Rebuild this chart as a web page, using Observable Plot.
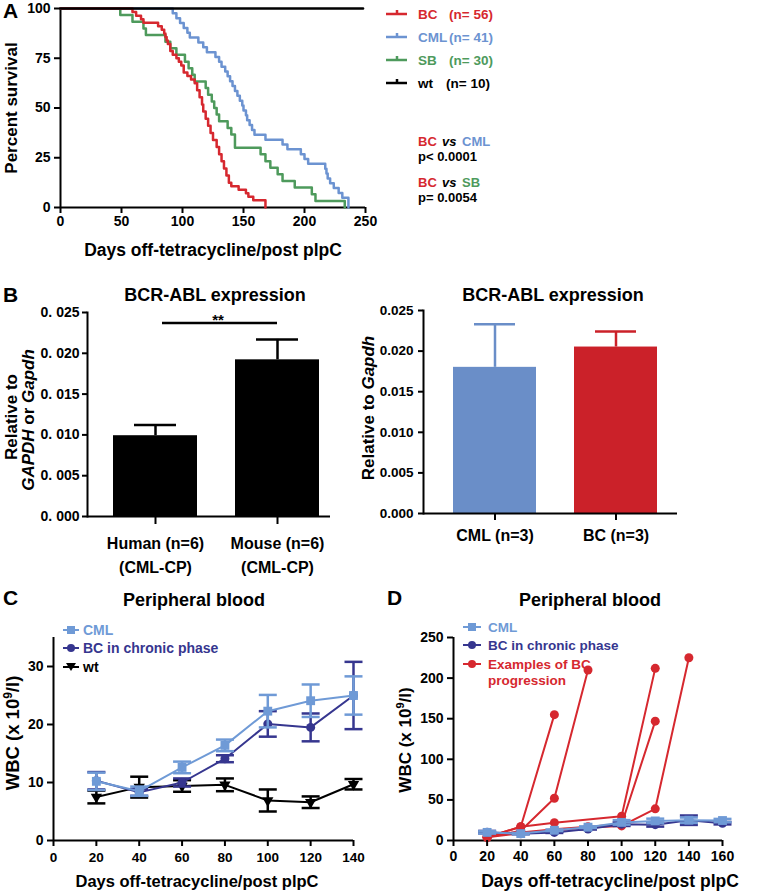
<!DOCTYPE html>
<html><head><meta charset="utf-8">
<script src="https://cdn.jsdelivr.net/npm/d3@7"></script>
<script src="https://cdn.jsdelivr.net/npm/@observablehq/plot@0.6"></script>
<style>
body{margin:0;background:#fff;}
#root{position:relative;width:760px;height:894px;overflow:hidden;background:#fff}
#root svg{position:absolute}
</style></head><body><div id="root"></div>
<script>
const FONT = "'Liberation Sans', Arial, Helvetica, sans-serif";
const RED = "#d6282f", BLUE = "#6c93d1", GREEN = "#4e9a5c", BLACK = "#000";
const CML_BAR = "#6a8ec8", BC_BAR = "#cb2129";
const CML_C = "#6f9ad6", BCC_C = "#36368f";

// ---------- Panel A: survival ----------
const bcDays  = [0, 59, 62, 66, 68, 80, 83, 85, 86, 87, 88, 90, 92, 95, 97, 99, 101, 104, 107, 110, 112, 114, 116, 117, 119, 121, 123, 125, 128, 130, 132, 134, 136, 138, 140, 146, 152, 154, 158, 168];
const bcPct   = [100, 98.2, 96.4, 94.6, 92.9, 91.1, 89.3, 87.5, 85.7, 83.9, 82.1, 78.6, 76.8, 75, 73.2, 71.4, 67.9, 66.1, 64.3, 62.5, 58.9, 55.4, 51.8, 48.2, 44.6, 41.1, 37.5, 33.9, 30.4, 26.8, 23.2, 19.6, 16.1, 12.5, 10.7, 8.9, 7.1, 5.4, 3.6, 0];
const cmlDays = [0, 92, 95, 98, 101, 104, 106, 113, 117, 120, 127, 130, 132, 135, 137, 139, 141, 143, 145, 147, 149, 150, 152, 153, 155, 157, 159, 168, 182, 186, 197, 200, 203, 217, 218, 219, 221, 224, 228, 231, 236];
const cmlPct  = [100, 97.6, 95.1, 92.7, 90.2, 87.8, 85.4, 82.9, 80.5, 78, 75.6, 73.2, 70.7, 68.3, 65.9, 63.4, 61, 58.5, 56.1, 53.7, 51.2, 48.8, 46.3, 43.9, 41.5, 39, 36.6, 34.1, 31.7, 29.3, 26.8, 24.4, 22, 19.5, 17.1, 14.6, 12.2, 9.8, 7.3, 4.9, 0];
const sbDays  = [0, 49, 59, 68, 70, 86, 90, 95, 102, 105, 108, 110, 119, 121, 124, 126, 128, 130, 137, 140, 143, 164, 168, 172, 178, 182, 192, 206, 209, 233];
const sbPct   = [100, 96.7, 93.3, 90, 86.7, 83.3, 80, 76.7, 73.3, 70, 66.7, 63.3, 60, 56.7, 53.3, 50, 46.7, 43.3, 40, 36.7, 30, 26.7, 23.3, 20, 16.7, 13.3, 10, 6.7, 3.3, 0];
const wtDays  = [0, 248];
const wtPct   = [100, 100];
const survGroups = ["BC", "CML", "SB", "wt"];
const survTicksX = [0, 50, 100, 150, 200, 250];
const survTicksY = [0, 25, 50, 75, 100];

// ---------- Panel B: expression ----------
const hmCats = ["Human (n=6)\n(CML-CP)", "Mouse (n=6)\n(CML-CP)"];
const hmMean = [0.0099, 0.0192];
const hmErr  = [0.0013, 0.0025];
const cbCats = ["CML (n=3)", "BC (n=3)"];
const cbMean = [0.0180, 0.0205];
const cbErr  = [0.0053, 0.0019];
const exprTicks = [0, 0.005, 0.010, 0.015, 0.020, 0.025];

// ---------- Panel C: peripheral blood ----------
const daysC   = [20, 40, 60, 80, 100, 120, 140];
const cmlC    = [10.2, 8.5, 12.6, 16.4, 22.3, 24.1, 25.0];
const cmlCErr = [1.5, 0.8, 1.0, 1.0, 2.8, 2.8, 3.3];
const bcC     = [10.3, 8.3, 10.0, 14.1, 20.1, 19.5, 25.0];
const bcCErr  = [1.5, 0.6, 0.7, 0.6, 2.2, 2.4, 5.8];
const wtC     = [7.5, 9.2, 9.4, 9.6, 6.9, 6.6, 9.7];
const wtCErr  = [1.1, 1.8, 1.0, 1.1, 1.9, 1.0, 0.9];
const ticksCX = [0, 20, 40, 60, 80, 100, 120, 140];
const ticksCY = [0, 10, 20, 30];

// ---------- Panel D ----------
const daysD   = [20, 40, 60, 80, 100, 120, 140, 160];
const cmlD    = [10.0, 8.5, 12.6, 16.4, 22.3, 24.1, 25.0, 24.6];
const cmlDErr = [1.5, 0.8, 1.0, 1.0, 2.8, 2.8, 3.3, 2.0];
const bcD     = [10.3, 8.3, 10.0, 14.1, 20.1, 19.5, 25.0, 21.3];
const bcDErr  = [1.5, 0.6, 0.7, 0.6, 2.2, 2.4, 5.8, 1.5];
const prog1Days = [20, 40, 60],                    prog1 = [4, 17, 155];
const prog2Days = [20, 40, 60, 80],                prog2 = [4, 12, 52, 210];
const prog3Days = [20, 40, 60, 100, 120],          prog3 = [4, 17, 22, 30, 212];
const prog4Days = [20, 40, 60, 80, 100, 120],      prog4 = [5, 10, 14, 17, 20, 147];
const prog5Days = [20, 40, 60, 80, 100, 120, 140], prog5 = [4, 9, 12, 16, 18, 39, 225];
const ticksDX = [0, 20, 40, 60, 80, 100, 120, 140, 160];
const ticksDY = [0, 50, 100, 150, 200, 250];

// ---------- helpers ----------
const root = document.getElementById("root");
function place(svg, left, top) { svg.style.left = left + "px"; svg.style.top = top + "px"; root.appendChild(svg); }
const baseStyle = {background: "transparent", fontFamily: FONT, fontWeight: "bold", fontSize: "14px", color: "#000", overflow: "visible"};
const capSym = {draw(ctx, size) { const r = Math.sqrt(size / Math.PI); ctx.moveTo(-r, 0); ctx.lineTo(r, 0); }};

// ---------- Panel A ----------
const rowsS = (days, pct, g) => days.map((d, i) => ({day: d, pct: pct[i], g}));
const surv = [...rowsS(sbDays, sbPct, "SB"), ...rowsS(cmlDays, cmlPct, "CML"), ...rowsS(bcDays, bcPct, "BC"), ...rowsS(wtDays, wtPct, "wt")];
place(Plot.plot({
  width: 380, height: 262, marginLeft: 60, marginRight: 15, marginTop: 8, marginBottom: 55,
  style: baseStyle,
  x: {domain: [0, 250]}, y: {domain: [0, 100]},
  color: {domain: survGroups, range: [RED, BLUE, GREEN, BLACK]},
  marks: [
    Plot.ruleX([0], {strokeWidth: 2}),
    Plot.ruleY([0], {strokeWidth: 2}),
    Plot.line(surv, {x: "day", y: "pct", z: "g", stroke: "g", curve: "step-after", strokeWidth: 2.5}),
    Plot.axisX({ticks: survTicksX, tickSize: 6, tickPadding: 3, strokeWidth: 2, fontSize: 14, label: null}),
    Plot.axisY({ticks: survTicksY, tickSize: 6, tickPadding: 4, strokeWidth: 2, fontSize: 14, label: null})
  ]
}), 0, 0);

// ---------- Panel B left ----------
const hm = hmCats.map((c, i) => ({c, v: hmMean[i], e: hmErr[i]}));
place(Plot.plot({
  width: 350, height: 300, marginLeft: 87, marginRight: 20, marginTop: 32, marginBottom: 64,
  style: baseStyle,
  x: {domain: hmCats, paddingInner: 0.311, paddingOuter: 0.151, align: 0.7},
  y: {domain: [0, 0.025]},
  marks: [
    Plot.ruleX(hm, {x: "c", y1: "v", y2: d => d.v + d.e, strokeWidth: 2.5}),
    Plot.tickY(hm, {x: "c", y: d => d.v + d.e, inset: 21, strokeWidth: 2.5}),
    Plot.barY(hm, {x: "c", y: "v", fill: "black"}),
    Plot.frame({anchor: "left", strokeWidth: 2}),
    Plot.ruleY([0], {strokeWidth: 2}),
    Plot.axisY({ticks: exprTicks, tickSize: 5, tickPadding: 3, strokeWidth: 2, fontSize: 14,
      tickFormat: d => d3.format(".3f")(d).replace(".", ". "), label: null}),
    Plot.axisX({tickSize: 8, tickPadding: 7, strokeWidth: 2, fontSize: 16, lineHeight: 1.5, label: null})
  ]
}), 0, 280);

// ---------- Panel B right ----------
const cb = cbCats.map((c, i) => ({c, v: cbMean[i], e: cbErr[i]}));
place(Plot.plot({
  width: 317, height: 300, marginLeft: 43, marginRight: 20, marginTop: 30, marginBottom: 67,
  style: baseStyle,
  x: {domain: cbCats, paddingInner: 0.311, paddingOuter: 0.197, align: 0.6},
  y: {domain: [0, 0.025]},
  color: {domain: cbCats, range: [CML_BAR, BC_BAR]},
  marks: [
    Plot.ruleX(cb, {x: "c", y1: "v", y2: d => d.v + d.e, stroke: "c", strokeWidth: 2.5}),
    Plot.tickY(cb, {x: "c", y: d => d.v + d.e, stroke: "c", inset: 21, strokeWidth: 2.5}),
    Plot.barY(cb, {x: "c", y: "v", fill: "c"}),
    Plot.frame({anchor: "left", strokeWidth: 2}),
    Plot.ruleY([0], {strokeWidth: 2}),
    Plot.axisY({ticks: exprTicks, tickSize: 5, tickPadding: 5, strokeWidth: 2, fontSize: 13.5,
      tickFormat: d3.format(".3f"), label: null}),
    Plot.axisX({tickSize: 7, tickPadding: 9, strokeWidth: 2, fontSize: 16, label: null})
  ]
}), 380, 280);

// ---------- Panels C & D helpers ----------
const rowsW = (days, mean, err) => days.map((d, i) => ({day: d, v: mean[i], e: err[i]}));
function seriesMarks(rows, color, symbol, r, rotate) {
  return [
    Plot.ruleX(rows, {x: "day", y1: d => d.v - d.e, y2: d => d.v + d.e, stroke: color, strokeWidth: 2.5}),
    Plot.dot(rows, {x: "day", y: d => d.v - d.e, symbol: capSym, r: 9, fill: "none", stroke: color, strokeWidth: 2.5}),
    Plot.dot(rows, {x: "day", y: d => d.v + d.e, symbol: capSym, r: 9, fill: "none", stroke: color, strokeWidth: 2.5}),
    Plot.line(rows, {x: "day", y: "v", stroke: color, strokeWidth: 2}),
    Plot.dot(rows, {x: "day", y: "v", symbol, r, fill: color, stroke: "none", rotate})
  ];
}

// ---------- Panel C ----------
place(Plot.plot({
  width: 380, height: 304, marginLeft: 53, marginRight: 27, marginTop: 47, marginBottom: 54,
  style: baseStyle,
  x: {domain: [0, 140]}, y: {domain: [0, 35]},
  marks: [
    Plot.ruleX([0], {strokeWidth: 2}),
    Plot.ruleY([0], {strokeWidth: 2}),
    ...seriesMarks(rowsW(daysC, wtC, wtCErr), BLACK, "triangle", 4.2, 180),
    ...seriesMarks(rowsW(daysC, bcC, bcCErr), BCC_C, "circle", 4.5, 0),
    ...seriesMarks(rowsW(daysC, cmlC, cmlCErr), CML_C, "square", 5, 0),
    Plot.axisX({ticks: ticksCX, tickSize: 6, tickPadding: 6, strokeWidth: 2, fontSize: 13.5, label: null}),
    Plot.axisY({ticks: ticksCY, tickSize: 6, tickPadding: 4, strokeWidth: 2, fontSize: 14, label: null})
  ]
}), 0, 590);

// ---------- Panel D ----------
const progList = [[prog1Days, prog1], [prog2Days, prog2], [prog3Days, prog3], [prog4Days, prog4], [prog5Days, prog5]];
const prog = progList.flatMap(([ds, vs], k) => ds.map((d, i) => ({day: d, v: vs[i], id: k})));
place(Plot.plot({
  width: 380, height: 304, marginLeft: 73, marginRight: 38, marginTop: 47, marginBottom: 54,
  style: baseStyle,
  x: {domain: [0, 160]}, y: {domain: [0, 250]},
  marks: [
    Plot.ruleX([0], {strokeWidth: 2}),
    Plot.ruleY([0], {strokeWidth: 2}),
    Plot.line(prog, {x: "day", y: "v", z: "id", stroke: RED, strokeWidth: 2}),
    Plot.dot(prog, {x: "day", y: "v", r: 4.5, fill: RED}),
    ...seriesMarks(rowsW(daysD, bcD, bcDErr), BCC_C, "circle", 4.5, 0),
    ...seriesMarks(rowsW(daysD, cmlD, cmlDErr), CML_C, "square", 5, 0),
    Plot.axisX({ticks: ticksDX, tickSize: 6, tickPadding: 5, strokeWidth: 2, fontSize: 14, label: null}),
    Plot.axisY({ticks: ticksDY, tickSize: 6, tickPadding: 4, strokeWidth: 2, fontSize: 14, label: null})
  ]
}), 380, 590);

// ---------- Overlay text: titles, labels, legends ----------
const ov = `
<svg xmlns="http://www.w3.org/2000/svg" width="760" height="894" style="left:0;top:0;pointer-events:none" font-family="${FONT}" font-weight="bold">
  <text x="3" y="18" font-size="21">A</text>
  <text transform="translate(17,108) rotate(-90)" text-anchor="middle" font-size="17">Percent survival</text>
  <text x="213" y="256" text-anchor="middle" font-size="17.5">Days off-tetracycline/post plpC</text>
  <g stroke-width="2.5" fill="none">
    <path d="M386,14H407M397,10V14" stroke="${RED}"/>
    <path d="M386,37H407M397,33V37" stroke="${BLUE}"/>
    <path d="M386,60H407M397,56V60" stroke="${GREEN}"/>
    <path d="M386,83H407M397,79V83" stroke="${BLACK}"/>
  </g>
  <g font-size="13.5">
    <text x="418" y="19" fill="${RED}">BC</text><text x="449" y="19" fill="${RED}">(n= 56)</text>
    <text x="418" y="42" fill="${BLUE}">CML</text><text x="449" y="42" fill="${BLUE}">(n= 41)</text>
    <text x="418" y="65" fill="${GREEN}">SB</text><text x="449" y="65" fill="${GREEN}">(n= 30)</text>
    <text x="418" y="88" fill="#000">wt</text><text x="446" y="88" fill="#000">(n= 10)</text>
  </g>
  <g font-size="13">
    <text x="418" y="146" fill="${RED}">BC</text>
    <text x="442" y="146" fill="#000" font-style="italic">vs</text>
    <text x="462" y="146" fill="${BLUE}">CML</text>
    <text x="418" y="161" fill="#000">p&lt; 0.0001</text>
    <text x="418" y="187" fill="${RED}">BC</text>
    <text x="442" y="187" fill="#000" font-style="italic">vs</text>
    <text x="462" y="187" fill="${GREEN}">SB</text>
    <text x="418" y="202" fill="#000">p= 0.0054</text>
  </g>

  <text x="3" y="302" font-size="21">B</text>
  <text x="215" y="301" text-anchor="middle" font-size="18">BCR-ABL expression</text>
  <text x="553" y="301" text-anchor="middle" font-size="18">BCR-ABL expression</text>
  <path d="M162,323H277" stroke="#000" stroke-width="2.5"/>
  <text x="218" y="325" text-anchor="middle" font-size="15">**</text>
  <text transform="translate(17,417) rotate(-90)" text-anchor="middle" font-size="17">Relative to</text>
  <text transform="translate(34,420) rotate(-90)" text-anchor="middle" font-size="17" font-style="italic">GAPDH <tspan font-style="normal">or</tspan> Gapdh</text>
  <text transform="translate(374,408) rotate(-90)" text-anchor="middle" font-size="17">Relative to <tspan font-style="italic">Gapdh</tspan></text>

  <text x="3" y="605" font-size="21">C</text>
  <text x="194" y="606" text-anchor="middle" font-size="18">Peripheral blood</text>
  <text transform="translate(19,733) rotate(-90)" text-anchor="middle" font-size="18.5">WBC (x 10<tspan dy="-7" font-size="12">9</tspan><tspan dy="7">/l)</tspan></text>
  <text x="197" y="887" text-anchor="middle" font-size="16.5">Days off-tetracycline/post plpC</text>
  <g stroke-width="2">
    <path d="M63,630H79" stroke="${CML_C}"/><rect x="67" y="626" width="8" height="8" fill="${CML_C}"/>
    <path d="M63,648H79" stroke="${BCC_C}"/><circle cx="71" cy="648" r="4" fill="${BCC_C}"/>
    <path d="M63,667H79" stroke="#000"/><path d="M66,663L76,663L71,671Z" fill="#000"/>
  </g>
  <g font-size="14">
    <text x="83" y="635" fill="${CML_C}">CML</text>
    <text x="83" y="653" fill="${BCC_C}">BC in chronic phase</text>
    <text x="83" y="672" fill="#000">wt</text>
  </g>

  <text x="387" y="605" font-size="21">D</text>
  <text x="590" y="606" text-anchor="middle" font-size="18">Peripheral blood</text>
  <text transform="translate(411,740) rotate(-90)" text-anchor="middle" font-size="17">WBC (x 10<tspan dy="-7" font-size="11">9</tspan><tspan dy="7">/l)</tspan></text>
  <text x="610" y="887" text-anchor="middle" font-size="17.5">Days off-tetracycline/post plpC</text>
  <g stroke-width="2">
    <path d="M463,627H481" stroke="${CML_C}"/><rect x="468" y="623" width="8" height="8" fill="${CML_C}"/>
    <path d="M463,645H481" stroke="${BCC_C}"/><circle cx="472" cy="645" r="4" fill="${BCC_C}"/>
    <path d="M463,664H481" stroke="${RED}"/><circle cx="472" cy="664" r="4" fill="${RED}"/>
  </g>
  <g font-size="13.5">
    <text x="488" y="632" fill="${CML_C}">CML</text>
    <text x="488" y="650" fill="${BCC_C}">BC in chronic phase</text>
    <text x="488" y="669" fill="${RED}">Examples of BC</text>
    <text x="488" y="685" fill="${RED}">progression</text>
  </g>
</svg>`;
root.insertAdjacentHTML("beforeend", ov);
</script>
</body></html>
